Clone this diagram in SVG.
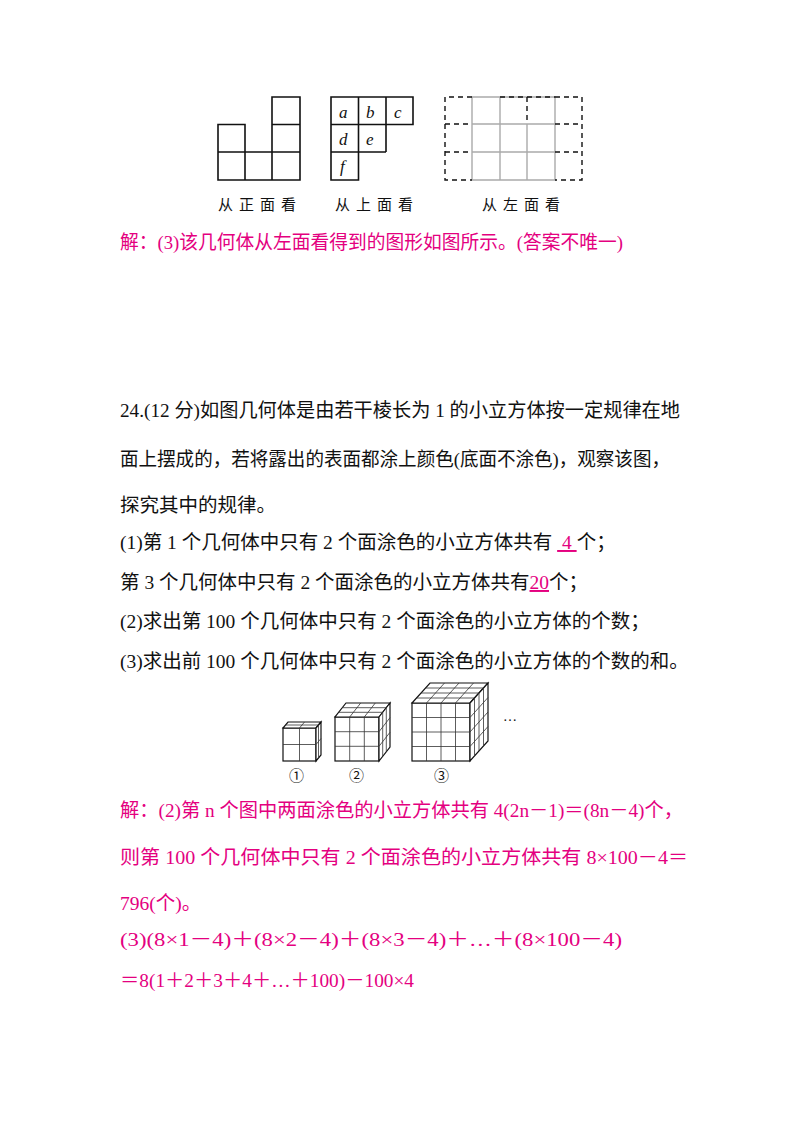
<svg xmlns="http://www.w3.org/2000/svg" width="800" height="1132" viewBox="0 0 800 1132">
<style>
.t{font-family:"Liberation Serif","Noto Sans CJK SC",serif;font-size:19.5px;fill:#111}
.p{fill:#e4007f}
.u{fill:#e4007f;text-decoration:underline}
.lab{font-family:"Noto Sans CJK SC",serif;font-size:15px;fill:#111;letter-spacing:6px}
.it{font-family:"Liberation Serif",serif;font-style:italic;font-size:17px;fill:#111}
.k{fill:none;stroke:#111;stroke-width:1.6}
.g{fill:none;stroke:#aaa;stroke-width:1.4}
.d{fill:none;stroke:#111;stroke-width:1.4;stroke-dasharray:5,4}
.c{fill:#fff;stroke:#111;stroke-width:1.2}
.ci{fill:none;stroke:#333;stroke-width:0.8}
</style>
<rect width="800" height="1132" fill="#fff"/>
<g id="front-view">
<path class="k" d="M218 124.5H245V180H218Z M218 152H300 M245 152V180H272V152 M272 97H300V180H272Z M272 124.5H300"/>
<text class="lab" x="218" y="210">从正面看</text>
</g>
<g id="top-view">
<path class="k" d="M331 97H413V124.5H331Z M358.5 97V152 M386 97V152 M331 124.5V180H358.5V124.5 M331 152H386"/>
<text class="it" x="339" y="118">a</text><text class="it" x="366" y="118">b</text><text class="it" x="394" y="118">c</text>
<text class="it" x="339" y="145">d</text><text class="it" x="366" y="145">e</text><text class="it" x="340" y="172">f</text>
<text class="lab" x="335" y="210">从上面看</text>
</g>
<g id="left-view">
<path class="g" d="M472 97H555V180H472Z M500 97V180 M527 124V180 M472 124H555 M472 152H555"/>
<path class="d" d="M472 97H445V180H472 M555 97H582V180H555 M445 124H472 M445 152H472 M555 124H582 M555 152H582 M527 97V124 M500 97H555"/>
<text class="lab" x="482" y="210">从左面看</text>
</g>
<text class="t p" x="120" y="249" textLength="503" lengthAdjust="spacingAndGlyphs">解：(3)该几何体从左面看得到的图形如图所示。(答案不唯一)</text>
<g id="question">
<text class="t" x="120" y="417" textLength="560" lengthAdjust="spacingAndGlyphs">24.(12 分)如图几何体是由若干棱长为 1 的小立方体按一定规律在地</text>
<text class="t" x="120" y="466" textLength="550" lengthAdjust="spacingAndGlyphs">面上摆成的，若将露出的表面都涂上颜色(底面不涂色)，观察该图，</text>
<text class="t" x="120" y="512">探究其中的规律。</text>
<text class="t" x="120" y="549">(1)第 1 个几何体中只有 2 个面涂色的小立方体共有 <tspan class="u">&#160;4&#160;</tspan>个；</text>
<text class="t" x="120" y="589">第 3 个几何体中只有 2 个面涂色的小立方体共有<tspan class="u">20</tspan>个；</text>
<text class="t" x="120" y="628">(2)求出第 100 个几何体中只有 2 个面涂色的小立方体的个数；</text>
<text class="t" x="120" y="668">(3)求出前 100 个几何体中只有 2 个面涂色的小立方体的个数的和。</text>
</g>
<g id="cube1">
<rect class="c" x="283" y="728" width="33" height="33"/>
<polygon class="c" points="283,728 316,728 321,722 288,722"/>
<polygon class="c" points="316,728 321,722 321,755 316,761"/>
<path class="ci" d="M299.5 728V761 M283 744.5H316 M299.5 728L304.5 722 M285.5 725H318.5 M318.5 725V758 M316 744.5L321 738.5"/>
</g>
<g id="cube2">
<rect class="c" x="335" y="717" width="44" height="44"/>
<polygon class="c" points="335,717 379,717 390,703 346,703"/>
<polygon class="c" points="379,717 390,703 390,747 379,761"/>
<path class="ci" d="M349.7 717V761 M364.3 717V761 M335 731.7H379 M335 746.3H379 M349.7 717L360.7 703 M364.3 717L375.3 703 M338.7 712.3H382.7 M342.3 707.7H386.3 M382.7 712.3V756.3 M386.3 707.7V751.7 M379 731.7L390 717.7 M379 746.3L390 732.3"/>
</g>
<g id="cube3">
<rect class="c" x="412" y="703" width="58" height="58"/>
<polygon class="c" points="412,703 470,703 488,683 430,683"/>
<polygon class="c" points="470,703 488,683 488,741 470,761"/>
<path class="ci" d="M426.5 703V761 M441 703V761 M455.5 703V761 M412 717.5H470 M412 732H470 M412 746.5H470 M426.5 703L444.5 683 M441 703L459 683 M455.5 703L473.5 683 M416.5 698H474.5 M421 693H479 M425.5 688H483.5 M474.5 698V756 M479 693V751 M483.5 688V746 M470 717.5L488 697.5 M470 732L488 712 M470 746.5L488 726.5"/>
</g>
<g id="labels">
<text class="t" x="289" y="781" style="font-size:15px">①</text>
<text class="t" x="349" y="781" style="font-size:15px">②</text>
<text class="t" x="434" y="781" style="font-size:15px">③</text>
<text class="t" x="503" y="721" style="font-size:14px">…</text>
</g>
<g id="solution">
<text class="t p" x="120" y="817" textLength="563" lengthAdjust="spacingAndGlyphs">解：(2)第 n 个图中两面涂色的小立方体共有 4(2n－1)＝(8n－4)个，</text>
<text class="t p" x="120" y="864" textLength="568" lengthAdjust="spacingAndGlyphs">则第 100 个几何体中只有 2 个面涂色的小立方体共有 8×100－4＝</text>
<text class="t p" x="120" y="910">796(个)。</text>
<text class="t p" x="120" y="946" textLength="502" lengthAdjust="spacingAndGlyphs">(3)(8×1－4)＋(8×2－4)＋(8×3－4)＋…＋(8×100－4)</text>
<text class="t p" x="120" y="987" textLength="294" lengthAdjust="spacingAndGlyphs">＝8(1＋2＋3＋4＋…＋100)－100×4</text>
</g>
</svg>
